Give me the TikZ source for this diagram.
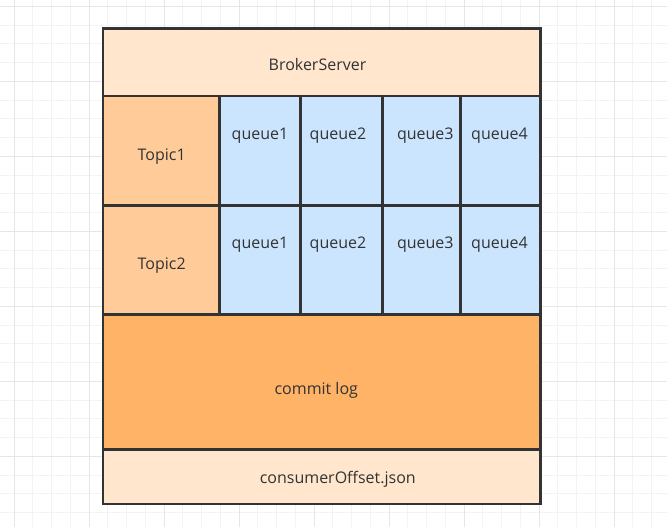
\documentclass[tikz,border=0pt]{standalone}
\usepackage{fontspec}
\setmainfont{Open Sans}
\definecolor{gridminor}{HTML}{F3F3F3}
\definecolor{gridmajor}{HTML}{E6E6E6}
\definecolor{edgegray}{HTML}{333333}
\definecolor{textgray}{HTML}{333333}
\definecolor{brokerfill}{HTML}{FFE6CC}
\definecolor{topicfill}{HTML}{FFCC99}
\definecolor{queuefill}{HTML}{CCE5FF}
\definecolor{logfill}{HTML}{FFB366}

\begin{document}
\begin{tikzpicture}[x=1pt, y=-1pt,
  cell/.style={draw=edgegray, line width=2.2pt},
  celltext/.style={text=textgray, font=\fontsize{16}{19}\selectfont, inner sep=0pt, anchor=base}]
\useasboundingbox (0,0) rectangle (667,527);
\fill[white] (0,0) rectangle (667,527);
% background grid
\foreach \i in {0,...,35}
  \draw[gridminor, line width=1pt] ({14+18.75*\i},0) -- ({14+18.75*\i},527);
\foreach \i in {0,...,27}
  \draw[gridminor, line width=1pt] (0,{6.3+18.75*\i}) -- (667,{6.3+18.75*\i});
\foreach \i in {0,...,8}
  \draw[gridmajor, line width=1pt] ({14+75*\i},0) -- ({14+75*\i},527);
\foreach \i in {0,...,7}
  \draw[gridmajor, line width=1pt] (0,{6.3+75*\i}) -- (667,{6.3+75*\i});
% broker
\filldraw[cell, fill=brokerfill] (103,28.5) rectangle (540.5,96);
\node[celltext] (broker) at (317.5,70.7) {BrokerServer};
% topics
\filldraw[cell, fill=topicfill] (103,96) rectangle (219.5,205.5);
\filldraw[cell, fill=topicfill] (103,205.5) rectangle (219.5,314.5);
\node[celltext] (topic1) at (161.7,160) {Topic1};
\node[celltext] (topic2) at (161.7,269) {Topic2};
% queues
\foreach \xa/\xb in {219.5/300.5, 300.5/382.5, 382.5/460.5, 460.5/540.5} {
  \filldraw[cell, fill=queuefill] (\xa,96) rectangle (\xb,205.5);
  \filldraw[cell, fill=queuefill] (\xa,205.5) rectangle (\xb,314.5);
}
\foreach \qx [count=\n] in {260,338,425.3,499.5} {
  \node[celltext] (queue1\n) at (\qx,139.3) {queue\n};
  \node[celltext] (queue2\n) at (\qx,248.3) {queue\n};
}
% commit log and offsets
\filldraw[cell, fill=logfill] (103,314.5) rectangle (540.5,449.5);
\node[celltext] (commitlog) at (316.3,394) {commit log};
\filldraw[cell, fill=brokerfill] (103,449.5) rectangle (540.5,504);
\node[celltext] (offset) at (337.8,483.3) {consumerOffset.json};
\end{tikzpicture}
\end{document}
